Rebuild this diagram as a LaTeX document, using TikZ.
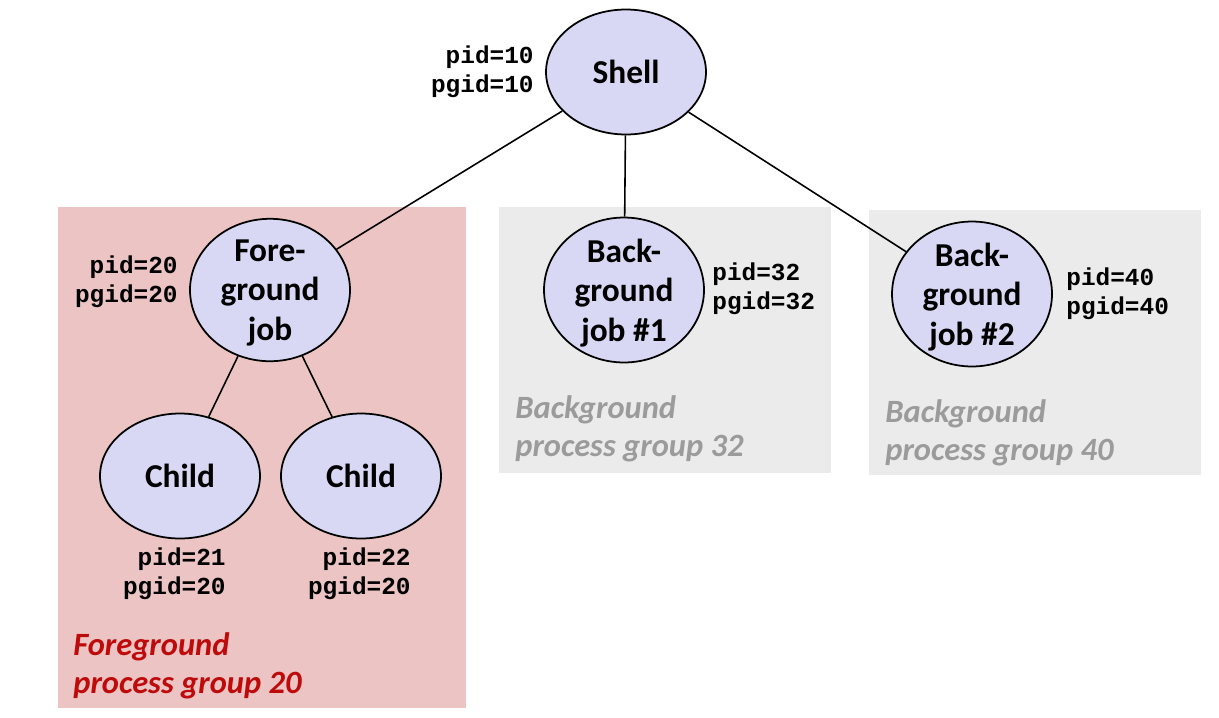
\documentclass[tikz,border=0pt]{standalone}
\usepackage{fontspec}
\setmainfont{Carlito}
\newfontfamily\pidfont{Liberation Mono}
\usetikzlibrary{shapes.geometric}
\definecolor{procfill}{RGB}{216,216,244}
\definecolor{fgbox}{RGB}{236,196,196}
\definecolor{bgbox}{RGB}{235,235,235}
\definecolor{fgtext}{RGB}{190,10,10}
\definecolor{bgtext}{RGB}{155,155,155}
\begin{document}
\begin{tikzpicture}[x=0.02cm,y=-0.02cm,
    proc/.style={ellipse,draw,line width=1pt,fill=procfill,inner sep=0pt,
      minimum width=3.2cm,minimum height=2.5cm,align=center,
      font=\fontsize{19}{22.5}\selectfont\bfseries},
    tall/.style={minimum height=2.76cm,text depth=0pt},
    ids/.style={inner sep=0pt,font=\fontsize{13.9}{16.3}\selectfont\pidfont\bfseries},
    grp/.style={anchor=north west,align=left,inner sep=0pt,
      font=\fontsize{18.5}{22}\selectfont\bfseries\itshape}]
      \useasboundingbox (0,0) rectangle (1219,717);
      % process groups
      \fill [fgbox] (58,207) rectangle (466,708);
      \fill [bgbox] (499,207) rectangle (831,473);
      \fill [bgbox] (869,210) rectangle (1201,475);
      % processes
      \node [proc] (shell) at (626,72) {Shell};
      \node [proc,tall] (fg) at (270,290) {Fore-\\ground\\job};
      \node [proc] (child1) at (180,476) {Child};
      \node [proc] (child2) at (361,476) {Child};
      \node [proc,tall] (bg1) at (624,290) {Back-\\ground\\job \#1};
      \node [proc,tall] (bg2) at (972,294) {Back-\\ground\\job \#2};
      \draw [line width=0.9pt] (shell) -- (fg);
      \draw [line width=0.9pt] (shell) -- (bg1);
      \draw [line width=0.9pt] (shell) -- (bg2);
      \draw [line width=0.9pt] (fg) -- (child1);
      \draw [line width=0.9pt] (fg) -- (child2);
      % ids
      \node [ids,anchor=east,align=right] (id10) at (534,72) {pid=10\\pgid=10};
      \node [ids,anchor=east,align=right] (id20) at (178,282) {pid=20\\pgid=20};
      \node [ids,anchor=east,align=right] (id21) at (226,574) {pid=21\\pgid=20};
      \node [ids,anchor=east,align=right] (id22) at (411,574) {pid=22\\pgid=20};
      \node [ids,anchor=west,align=left] (id32) at (712,289) {pid=32\\pgid=32};
      \node [ids,anchor=west,align=left] (id40) at (1066,294) {pid=40\\pgid=40};
      % group names
      \node [grp,text=fgtext] (fgname) at (73,632) {Foreground\\process group 20};
      \node [grp,text=bgtext] (bgname1) at (515,395) {Background\\process group 32};
      \node [grp,text=bgtext] (bgname2) at (885,399) {Background\\process group 40};
\end{tikzpicture}
\end{document}
